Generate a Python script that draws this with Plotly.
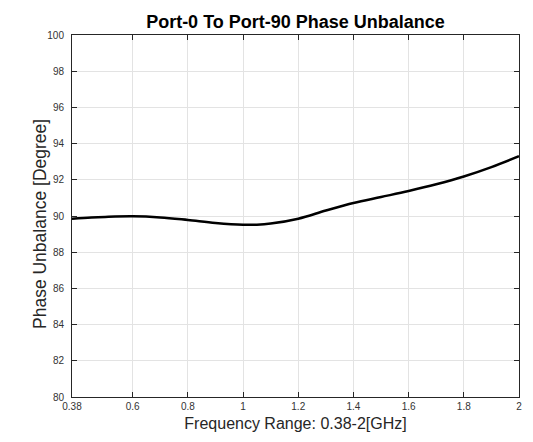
import plotly.graph_objects as go

freq_ghz = [0.38, 0.45, 0.5, 0.6, 0.7, 0.8, 0.9, 1.0, 1.05, 1.1, 1.2, 1.3, 1.4, 1.5, 1.6, 1.7, 1.8, 1.9, 2.0]
phase_deg = [89.85, 89.92, 89.95, 89.98, 89.92, 89.78, 89.62, 89.52, 89.52, 89.58, 89.85, 90.3, 90.72, 91.05, 91.38, 91.75, 92.18, 92.7, 93.3]

x_ticks = [0.38, 0.6, 0.8, 1.0, 1.2, 1.4, 1.6, 1.8, 2.0]
x_tick_labels = ["0.38", "0.6", "0.8", "1", "1.2", "1.4", "1.6", "1.8", "2"]
y_ticks = [80, 82, 84, 86, 88, 90, 92, 94, 96, 98, 100]

fig = go.Figure()
fig.add_trace(go.Scatter(
    x=freq_ghz, y=phase_deg, mode="lines",
    line=dict(color="black", width=2.5, shape="spline", smoothing=1.0),
    showlegend=False,
))

axis_common = dict(
    showline=True, linecolor="#262626", linewidth=1, mirror="ticks",
    ticks="inside", ticklen=5, tickcolor="#262626",
    showgrid=True, gridcolor="#e3e3e3", gridwidth=1,
    zeroline=False,
    tickfont=dict(family="Liberation Sans, Arial, sans-serif", size=10, color="#333333"),
)

fig.update_layout(
    width=525, height=434,
    margin=dict(l=64, r=14, t=27, b=45),
    paper_bgcolor="white", plot_bgcolor="white",
    font=dict(family="Liberation Sans, Arial, sans-serif", color="#262626"),
    title=dict(
        text="<b>Port-0 To Port-90 Phase Unbalance</b>",
        font=dict(family="Liberation Sans, Arial, sans-serif", size=18, color="black"),
        x=0.5, xanchor="center", xref="paper",
        y=0.968, yanchor="middle", yref="container",
    ),
    xaxis=dict(
        range=[0.38, 2.0], tickvals=x_ticks, ticktext=x_tick_labels,
        ticklabelstandoff=0,
        title=dict(text="Frequency Range: 0.38-2[GHz]",
                   font=dict(size=16, color="#262626"), standoff=6),
        **axis_common,
    ),
    yaxis=dict(
        range=[80, 100], tickvals=y_ticks,
        ticklabelstandoff=5,
        **axis_common,
    ),
    annotations=[dict(
        text="Phase Unbalance [Degree]", textangle=-90,
        xref="paper", yref="paper",
        x=(40 - 72) / 447, y=(397 - 224) / 362,
        xanchor="center", yanchor="middle", showarrow=False,
        font=dict(family="Liberation Sans, Arial, sans-serif", size=17.5, color="#262626"),
    )],
)

fig.write_html("out.html")
